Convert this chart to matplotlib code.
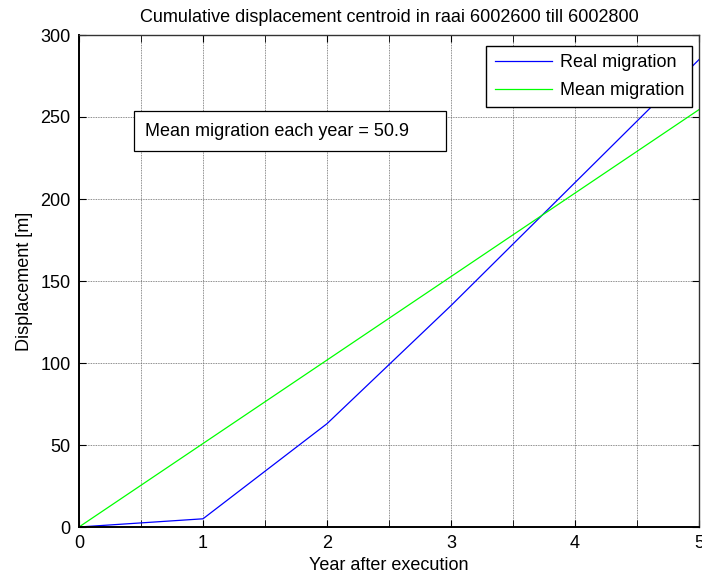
import matplotlib
matplotlib.use("Agg")
import matplotlib.pyplot as plt
from matplotlib.ticker import MultipleLocator
from matplotlib.patches import Rectangle

years = [0, 1, 2, 3, 4, 5]
real_migration = [0, 5, 63, 135, 210, 285]
mean_per_year = 50.9
mean_migration = [y * mean_per_year for y in years]

plt.rcParams['font.family'] = ['Liberation Sans', 'DejaVu Sans']
FS = 13

fig = plt.figure(figsize=(7.02, 5.77), dpi=100)
ax = fig.add_axes([79/702, 50/577, 620/702, 492/577])

ax.plot(years, real_migration, color='#0000ff', lw=0.9, label='Real migration')
ax.plot(years, mean_migration, color='#00ff00', lw=0.9, label='Mean migration')

ax.set_xlim(0, 5)
ax.set_ylim(0, 300)
ax.xaxis.set_major_locator(MultipleLocator(1))
ax.xaxis.set_minor_locator(MultipleLocator(0.5))
ax.yaxis.set_major_locator(MultipleLocator(50))
ax.grid(True, which='both', axis='x', color='#666666', ls=(0, (1, 1)), lw=0.6)
ax.grid(True, which='major', axis='y', color='#666666', ls=(0, (1, 1)), lw=0.6)
ax.tick_params(which='both', direction='in', top=True, right=True, labelsize=FS, pad=6)
ax.tick_params(which='major', length=5)
ax.tick_params(which='minor', length=5)
for side in ['left', 'bottom']:
    ax.spines[side].set_linewidth(1.4)
for side in ['top', 'right']:
    ax.spines[side].set_linewidth(1.0)
    ax.spines[side].set_color('#333333')

ax.set_title('Cumulative displacement centroid in raai 6002600 till 6002800', fontsize=FS, pad=9)
ax.set_xlabel('Year after execution', fontsize=FS, labelpad=3)
ax.set_ylabel('Displacement [m]', fontsize=FS, labelpad=5)

leg = ax.legend(loc='upper right', fontsize=FS, fancybox=False, framealpha=1,
                edgecolor='black', borderpad=0.45, handlelength=3.2, handletextpad=0.4,
                labelspacing=0.6, borderaxespad=0,
                bbox_to_anchor=((692 - 79) / 620, (527 - 46) / 492))
leg.get_frame().set_linewidth(1.0)

# annotation box (axes fraction coordinates)
ax.add_patch(Rectangle(((134 - 79) / 620, (527 - 151) / 492), 312 / 620, 40 / 492,
                       transform=ax.transAxes, fc='white', ec='black', lw=0.9, zorder=3))
ax.text((145 - 79) / 620, (527 - 131) / 492,
        'Mean migration each year = %.1f' % mean_per_year, fontsize=FS,
        va='center', ha='left', transform=ax.transAxes, zorder=4)

fig.savefig('out.png', dpi=100)
